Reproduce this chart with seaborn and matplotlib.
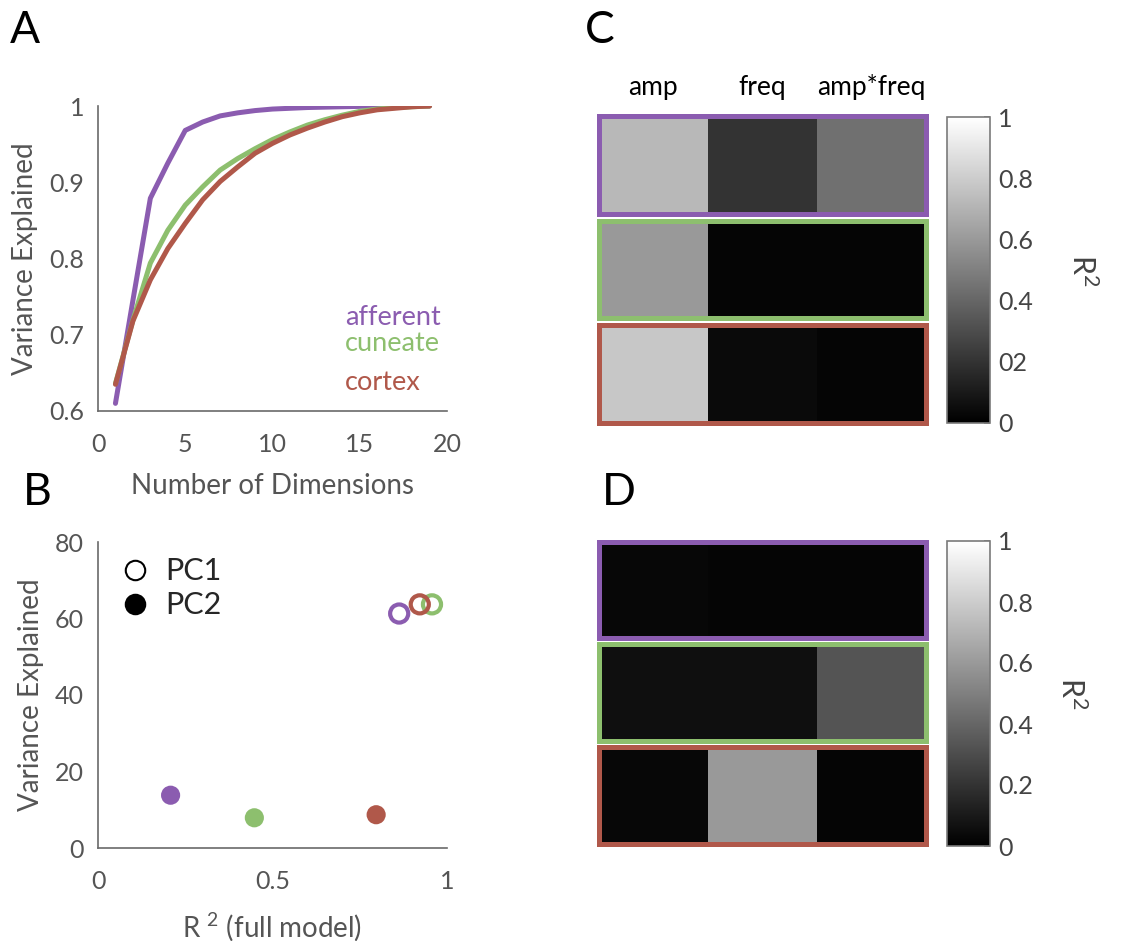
import matplotlib
matplotlib.use("Agg")
import matplotlib.pyplot as plt
from matplotlib.lines import Line2D
import numpy as np
import pandas as pd
import seaborn as sns

# ---------------- data ----------------
regions = ["afferent", "cuneate", "cortex"]
region_colors = ["#8B5CB0", "#8DBF6E", "#B0584A"]

dims = list(range(1, 20))
var_afferent = [0.610, 0.745, 0.879, 0.925, 0.968, 0.979, 0.987, 0.991, 0.994, 0.996,
                0.997, 0.998, 0.9985, 0.999, 0.9995, 1.0, 1.0, 1.0, 1.0]
var_cuneate = [0.636, 0.719, 0.794, 0.837, 0.870, 0.894, 0.916, 0.931, 0.944, 0.956,
               0.966, 0.975, 0.982, 0.988, 0.993, 0.996, 0.998, 0.999, 1.0]
var_cortex = [0.635, 0.718, 0.772, 0.813, 0.846, 0.877, 0.901, 0.920, 0.938, 0.951,
              0.962, 0.971, 0.979, 0.986, 0.991, 0.995, 0.997, 0.999, 1.0]

pc1_r2 = [0.863, 0.957, 0.922]
pc1_var = [61.3, 63.7, 63.7]
pc2_r2 = [0.208, 0.448, 0.797]
pc2_var = [13.8, 7.9, 8.7]

factors = ["amp", "freq", "amp*freq"]
c_afferent = [0.72, 0.20, 0.44]
c_cuneate = [0.60, 0.02, 0.02]
c_cortex = [0.78, 0.04, 0.02]
d_afferent = [0.03, 0.02, 0.02]
d_cuneate = [0.06, 0.06, 0.33]
d_cortex = [0.03, 0.60, 0.02]

a_xticks = [0, 5, 10, 15, 20]
a_yticks = [0.6, 0.7, 0.8, 0.9, 1.0]
a_yticklabels = ["0.6", "0.7", "0.8", "0.9", "1"]
b_xticks = [0, 0.5, 1]
b_xticklabels = ["0", "0.5", "1"]
b_yticks = [0, 20, 40, 60, 80]
cb_ticks = [0, 0.2, 0.4, 0.6, 0.8, 1]
c_cb_labels = ["0", "02", "0.4", "0.6", "0.8", "1"]
d_cb_labels = ["0", "0.2", "0.4", "0.6", "0.8", "1"]

# ---------------- style ----------------
sns.set_theme(style="white")
plt.rcParams["font.family"] = ["Lato", "DejaVu Sans"]
plt.rcParams["mathtext.default"] = "regular"

GRAY = "#555555"
SPINE = "#6a6a6a"
W, H = 1133, 941
fig = plt.figure(figsize=(W / 100, H / 100), dpi=100)


def fax(l, t, r, b):
    return fig.add_axes([l / W, 1 - b / H, (r - l) / W, (b - t) / H])


palette = dict(zip(regions, region_colors))


def style_axis(ax):
    sns.despine(ax=ax)
    for s in ("left", "bottom"):
        ax.spines[s].set_color(SPINE)
        ax.spines[s].set_linewidth(1.2)
    ax.tick_params(direction="in", length=5, width=1, color=SPINE,
                   labelcolor=GRAY, labelsize=18)
    ax.tick_params(axis="x", pad=16)
    ax.tick_params(axis="y", pad=10)


# ---------------- panel A ----------------
axA = fax(98, 106, 447, 411)
dfA = pd.DataFrame({
    "dim": dims * 3,
    "var": var_afferent + var_cuneate + var_cortex,
    "region": [r for r in regions for _ in dims],
})
sns.lineplot(data=dfA, x="dim", y="var", hue="region", palette=palette,
             linewidth=3.6, legend=False, ax=axA)
axA.set_xlim(0, 20)
axA.set_ylim(0.6, 1.0)
axA.set_xticks(a_xticks)
axA.set_yticks(a_yticks)
axA.set_yticklabels(a_yticklabels)
style_axis(axA)
axA.set_xlabel("Number of Dimensions", fontsize=20, color=GRAY, labelpad=12)
axA.set_ylabel("Variance Explained", fontsize=20, color=GRAY, labelpad=8)
label_y = [0.723, 0.689, 0.637]
for reg, col, yy in zip(regions, region_colors, label_y):
    axA.text(14.15, yy, reg, color=col, fontsize=19.5, va="center", ha="left")

# ---------------- panel B ----------------
axB = fax(98, 542, 447, 848)
dfB1 = pd.DataFrame({"r2": pc1_r2, "var": pc1_var, "region": regions})
dfB2 = pd.DataFrame({"r2": pc2_r2, "var": pc2_var, "region": regions})
sns.scatterplot(data=dfB1, x="r2", y="var", hue="region", palette=palette,
                s=170, legend=False, ax=axB)
coll = axB.collections[-1]
fcs = coll.get_facecolors()
coll.set_facecolors("none")
coll.set_edgecolors(fcs)
coll.set_linewidths(3)
sns.scatterplot(data=dfB2, x="r2", y="var", hue="region", palette=palette,
                s=190, linewidth=0, legend=False, ax=axB)
axB.set_xlim(0, 1)
axB.set_ylim(0, 80)
axB.set_xticks(b_xticks)
axB.set_xticklabels(b_xticklabels)
axB.set_yticks(b_yticks)
style_axis(axB)
axB.set_xlabel("R $^{2}$ (full model)", fontsize=20, color=GRAY, labelpad=12)
axB.set_ylabel("Variance Explained", fontsize=20, color=GRAY, labelpad=8)
handles = [
    Line2D([], [], marker="o", ls="", mfc="none", mec="black", ms=14, mew=1.5),
    Line2D([], [], marker="o", ls="", mfc="black", mec="black", ms=14, mew=1.5),
]
axB.legend(handles, ["PC1", "PC2"], loc="upper left", bbox_to_anchor=(0.0, 1.02),
           frameon=False, fontsize=22, handlelength=1.0, handletextpad=0.5,
           labelspacing=0.2, borderaxespad=0.3)

# ---------------- panels C, D ----------------
def heat_panel(rows, top, bot, cb_top, cb_bot, cb_labels, label_pad, show_cols):
    gap = 1.2
    half = 2.5
    fh = (bot - top - 2 * gap) / 3
    cax = fax(947, cb_top, 990, cb_bot)
    for i, (reg, col, vals) in enumerate(zip(regions, region_colors, rows)):
        ft = top + i * (fh + gap)
        ax = fax(596 + half, ft + half, 928 - half, ft + fh - half)
        df = pd.DataFrame([vals], columns=factors)
        first = i == 0
        sns.heatmap(df, ax=ax, cmap="gray", vmin=0, vmax=1,
                    cbar=first, cbar_ax=cax if first else None,
                    cbar_kws={"ticks": cb_ticks} if first else None,
                    xticklabels=factors if (first and show_cols) else False,
                    yticklabels=False)
        for s in ax.spines.values():
            s.set_visible(True)
            s.set_color(col)
            s.set_linewidth(3.6)
        ax.set_xlabel("")
        ax.set_ylabel("")
        if first and show_cols:
            ax.xaxis.tick_top()
            ax.tick_params(axis="x", length=0, pad=12, labelsize=19,
                           labelcolor="black", rotation=0)
        if first:
            cb = ax.collections[0].colorbar
            cb.set_ticks(cb_ticks)
            cb.set_ticklabels(cb_labels)
            cb.outline.set_edgecolor("#7a7a7a")
            cb.outline.set_linewidth(1.2)
            cb.ax.tick_params(direction="in", length=4, color="#7a7a7a",
                              labelsize=18, labelcolor="#444444", pad=6)
            cb.ax.set_ylabel("R$^2$", rotation=270, va="bottom", fontsize=22,
                             color="#444444", labelpad=label_pad)


heat_panel([c_afferent, c_cuneate, c_cortex], 114, 425, 117, 423,
           c_cb_labels, 24, True)
heat_panel([d_afferent, d_cuneate, d_cortex], 539, 846, 541, 846,
           d_cb_labels, 16, False)

# ---------------- panel letters ----------------
for letter, x, ybase in [("A", 10, 43), ("B", 23, 505), ("C", 585, 43), ("D", 602, 505)]:
    fig.text(x / W, 1 - ybase / H, letter, fontsize=32, color="black",
             ha="left", va="baseline")

fig.savefig("out.png", dpi=100)
